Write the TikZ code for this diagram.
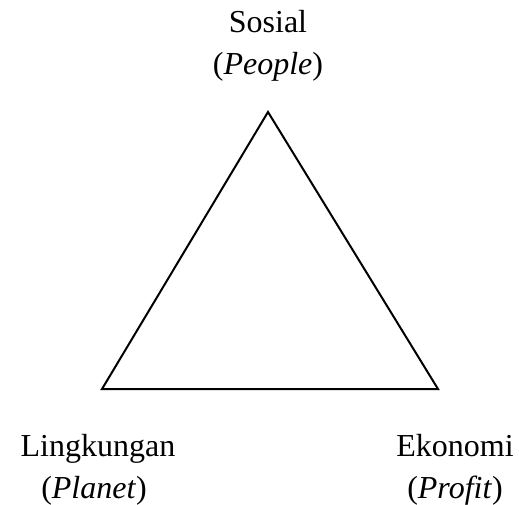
\documentclass[tikz,border=0pt]{standalone}
\usepackage{fontspec}
\setmainfont{Liberation Serif}
\begin{document}
\begin{tikzpicture}[x=1pt,y=-1pt,
  lbl/.style={font=\fontsize{32}{42}\selectfont, align=center, anchor=base, inner sep=0pt},
  edge/.style={draw=black, line width=2pt, line join=miter}]
\useasboundingbox (0,0) rectangle (519,505);
\coordinate (top) at (268,112);
\coordinate (left) at (102,389);
\coordinate (right) at (438,389);
\draw[edge] (top) -- (left) -- (right) -- cycle;
\node[lbl] (sosial) at (268,33) {Sosial};
\node[lbl] (people) at (268,75) {(\textit{People})};
\node[lbl] (ling) at (98,456) {Lingkungan};
\node[lbl] (planet) at (94,498) {(\textit{Planet})};
\node[lbl] (eko) at (455,456) {Ekonomi};
\node[lbl] (profit) at (455,498) {(\textit{Profit})};
\end{tikzpicture}
\end{document}
